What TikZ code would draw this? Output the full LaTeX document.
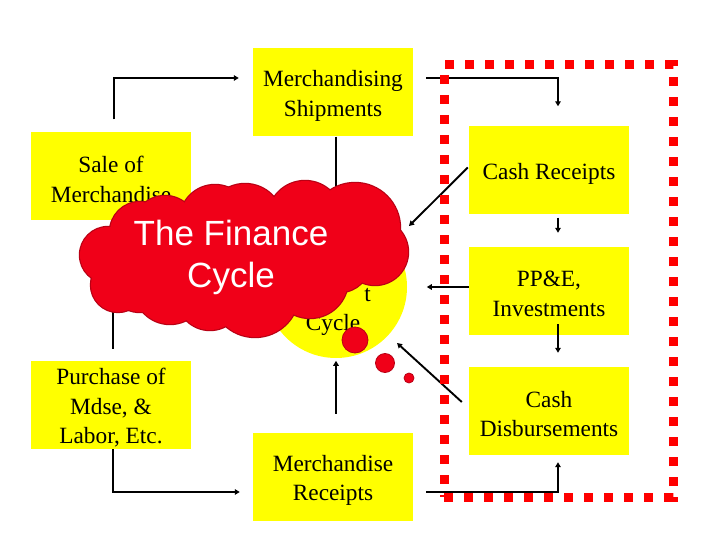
\documentclass[tikz,border=0pt]{standalone}
\usepackage{fontspec}
\setmainfont{Liberation Serif}
\newfontfamily\cloudfont{Liberation Sans}
\usetikzlibrary{arrows.meta}
\definecolor{boxyellow}{RGB}{255,255,0}
\definecolor{cloudred}{RGB}{240,0,24}
\definecolor{cloudedge}{RGB}{185,0,20}
\definecolor{dashred}{RGB}{255,0,0}
\begin{document}
\begin{tikzpicture}[x=1pt,y=-1pt,
  box/.style={fill=boxyellow, minimum width=160pt, minimum height=88pt, inner sep=0pt},
  lbl/.style={align=center, font=\fontsize{23.3}{29.5}\selectfont, inner sep=0pt},
  conn/.style={line width=1.9pt, black},
  arr/.style={conn, -{Triangle[length=5pt,width=5.5pt]}},
  bubble/.style={circle, fill=cloudred, draw=cloudedge, line width=0.8pt, inner sep=0pt},
  txt/.style={font=\fontsize{23.3}{29.5}\selectfont, inner sep=0pt}
]
\useasboundingbox (0,0) rectangle (720,540);
\fill[white] (0,0) rectangle (720,540);

% boxes
\node[box] (ship) at (333,92.5) {};
\node[box] (sale) at (111,176.5) {};
\node[box] (cr) at (549,170.5) {};
\node[box] (pp) at (549,291) {};
\node[box] (cd) at (549,411) {};
\node[box] (pur) at (111,405) {};
\node[box] (mr) at (333,477) {};
\node[lbl] (shipT) at ([yshift=-3.5pt]ship.center) {Merchandising\\Shipments};
\node[lbl] (saleT) at ([yshift=-3pt]sale.center) {Sale of\\Merchandise};
\node[lbl] (crT) at ([yshift=-3pt]cr.center) {Cash Receipts};
\node[lbl] (ppT) at ([yshift=-3pt]pp.center) {PP\&E,\\Investments};
\node[lbl] (cdT) at ([yshift=-3pt]cd.center) {Cash\\Disbursements};
\node[lbl] (purT) at ([yshift=-3pt]pur.center) {Purchase of\\Mdse, \&\\Labor, Etc.};
\node[lbl] (mrT) at ([yshift=-3.5pt]mr.center) {Merchandise\\Receipts};

\coordinate (crtip) at (409,226);
\coordinate (cdtip) at (397,343);

% connectors
\draw[arr] ([xshift=3pt,yshift=13pt]sale.north) |- ([xshift=-14pt,yshift=14.5pt]ship.west);
\draw[arr] ([xshift=13pt,yshift=14.5pt]ship.east) -| ([xshift=9pt,yshift=20pt]cr.north);
\draw[arr] ([xshift=9pt,yshift=-3pt]cr.south) -- ([xshift=9pt,yshift=14pt]pp.north);
\draw[arr] ([xshift=9pt,yshift=11pt]pp.south) -- ([xshift=9pt,yshift=14pt]cd.north);
\draw[arr] ([xshift=13pt,yshift=-15pt]mr.east) -| ([xshift=9pt,yshift=-7pt]cd.south);
\draw[arr] ([xshift=-1pt,yshift=3pt]cr.west) -- (crtip);
\draw[arr] ([yshift=4pt]pp.west) -- ([xshift=-42pt,yshift=4pt]pp.west);
\draw[arr] ([xshift=-7pt,yshift=9pt]cd.west) -- (cdtip);
\draw[arr] ([xshift=3pt,yshift=19pt]mr.north) -- ([xshift=3pt,yshift=72pt]mr.north);
\draw[conn] ([xshift=3pt]ship.south) -- ([xshift=3pt,yshift=-90pt]ship.south);
\draw[conn] ([xshift=2pt]sale.south) -- ([xshift=2pt,yshift=12pt]pur.north);
\draw[arr] ([xshift=2pt]pur.south) |- ([xshift=-13pt,yshift=-15pt]mr.west);

% central circle
\node[circle, fill=boxyellow, minimum size=142pt, inner sep=0pt] (fc) at (336,287) {};
\node[txt, anchor=base] (cyc) at (333,330) {Cycle};
\node[txt, anchor=base east] (tt) at (371,301) {t};

% dashed group frame
\node[draw=dashred, line width=9pt, dash pattern=on 9pt off 11pt,
  minimum width=229pt, minimum height=432pt, inner sep=0pt] (grp) at (558.5,281) {};

% cloud (union of puffs)
\def\puffs{140/232/30,165/228/32,215/220/35,245/222/38,305/218/37,355/228/45,375/252/33,108/255/28,118/285/27,140/280/32,170/288/36,210/297/33,255/293/44,310/280/38,340/262/30}
\foreach \cx/\cy/\r in \puffs {\draw[cloudedge, line width=2.4pt] (\cx,\cy) circle[radius=\r pt];}
\draw[cloudedge, line width=2.4pt] (240,258) ellipse[x radius=130pt, y radius=55pt];
\foreach \cx/\cy/\r in \puffs {\fill[cloudred] (\cx,\cy) circle[radius=\r pt];}
\fill[cloudred] (240,258) ellipse[x radius=130pt, y radius=55pt];
\node[font=\cloudfont\fontsize{35}{42}\selectfont, text=white, align=center, inner sep=0pt]
  (ct) at (231,257) {The Finance\\Cycle};
\node[bubble, minimum size=26pt] (b1) at (355,340) {};
\node[bubble, minimum size=19pt] (b2) at (385,363) {};
\node[bubble, minimum size=10pt] (b3) at (409,378) {};
\end{tikzpicture}
\end{document}
